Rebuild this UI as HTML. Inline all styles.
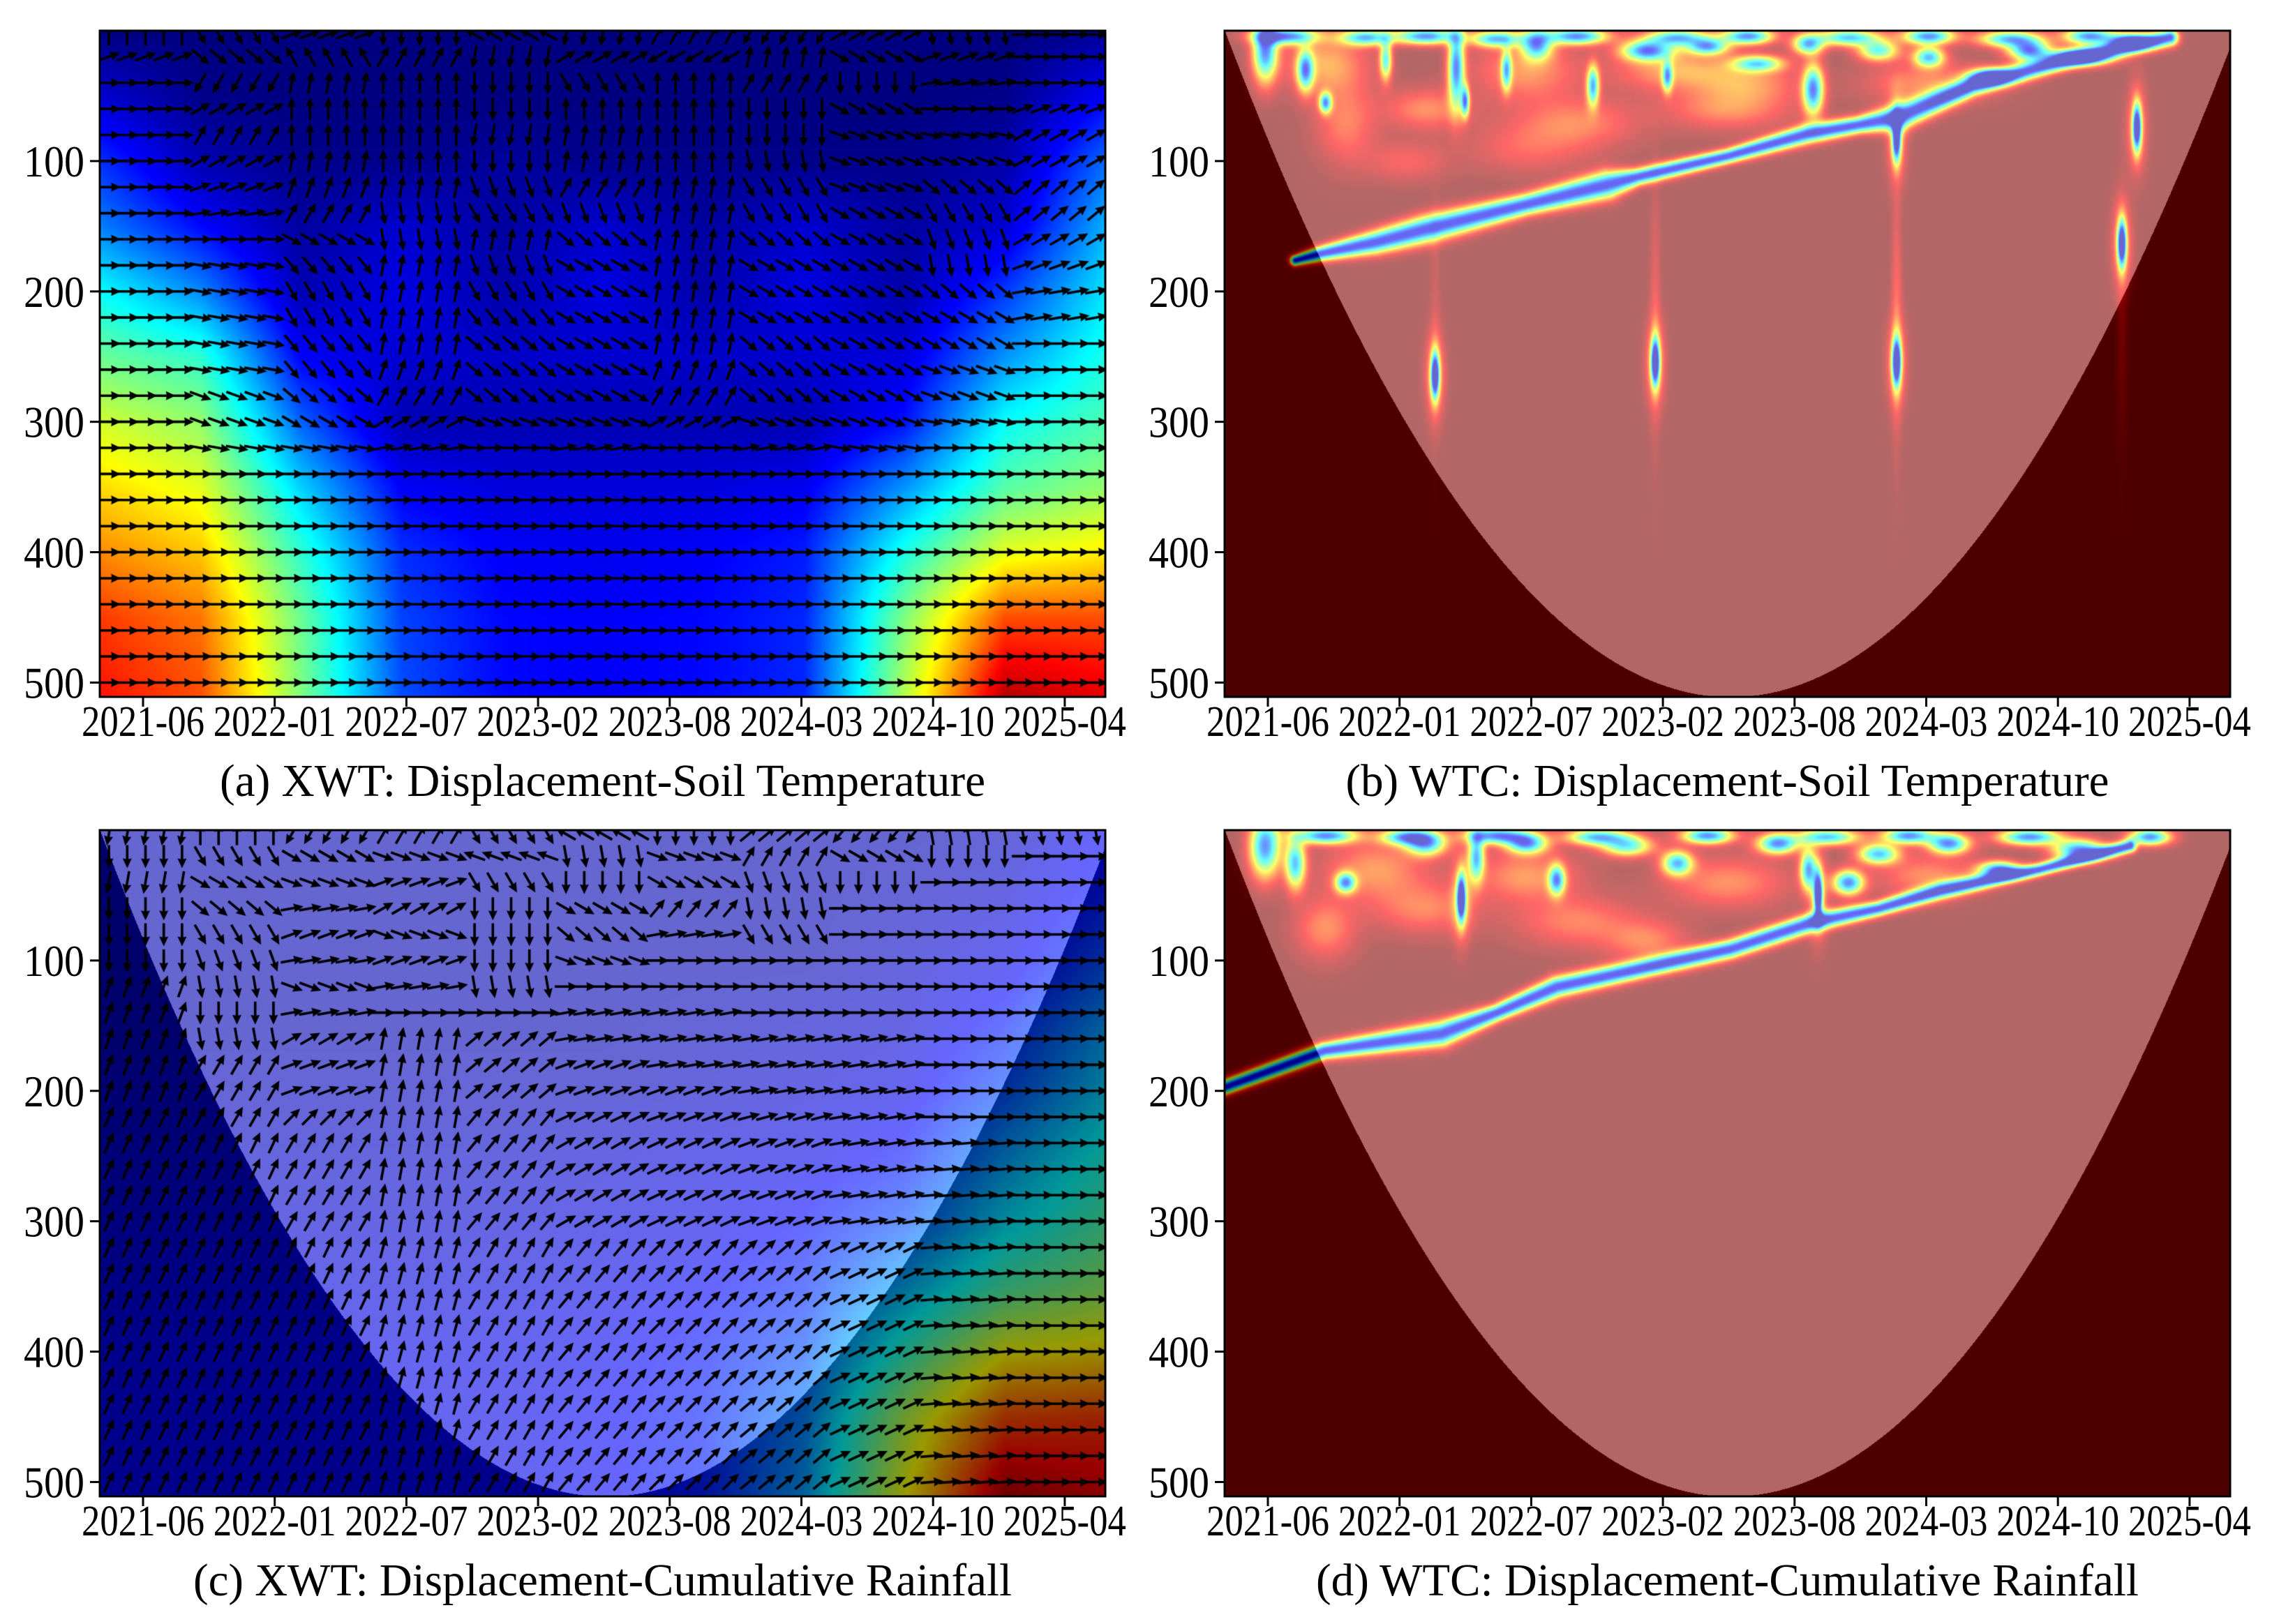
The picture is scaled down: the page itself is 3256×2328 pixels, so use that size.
<!DOCTYPE html>
<html><head><meta charset="utf-8">
<style>
html,body{margin:0;padding:0;background:#fff;}
#root{position:relative;width:3256px;height:2328px;overflow:hidden;background:#fff;}
canvas{position:absolute;}
svg{position:absolute;left:0;top:0;}
text{font-family:"Liberation Serif","Times New Roman",serif;fill:#000;}
</style></head>
<body>
<div id="root">
<canvas id="cA"></canvas>
<canvas id="cB"></canvas>
<canvas id="cC"></canvas>
<canvas id="cD"></canvas>
<svg id="ov" width="3256" height="2328"></svg>
</div>
<script>
// ---------- data ----------
const xTickLabels = ['2021-06','2022-01','2022-07','2023-02','2023-08','2024-03','2024-10','2025-04'];
const yTickValues = [100,200,300,400,500];
const panelTitles = ['(a) XWT: Displacement-Soil Temperature','(b) WTC: Displacement-Soil Temperature','(c) XWT: Displacement-Cumulative Rainfall','(d) WTC: Displacement-Cumulative Rainfall'];
const titleWidths = [1097,1094,1173,1179];
const periodMax = 511;
const gridV = [0,50,100,150,200,250,300,350,400,450,511];
const powerA = [
[.00,.00,.00,.00,.00,.00,.00,.00,.00,.00,.02],
[.08,.01,.00,.00,.00,.00,.00,.00,.00,.01,.12],
[.17,.05,.01,.01,.03,.01,.01,.01,.01,.04,.23],
[.25,.13,.03,.08,.03,.08,.03,.08,.03,.08,.30],
[.38,.26,.05,.10,.04,.10,.04,.10,.04,.18,.35],
[.48,.42,.12,.08,.07,.08,.07,.08,.09,.27,.40],
[.58,.52,.22,.05,.05,.05,.05,.05,.14,.38,.45],
[.66,.60,.33,.12,.09,.09,.09,.11,.27,.46,.52],
[.74,.68,.42,.17,.12,.11,.12,.15,.40,.60,.64],
[.82,.76,.48,.19,.13,.12,.13,.16,.50,.80,.80],
[.86,.80,.50,.20,.13,.12,.13,.16,.55,.95,.90]];
const powerC = [
[.05,.05,.05,.05,.05,.05,.05,.05,.05,.06,.12],
[.05,.05,.05,.05,.05,.05,.05,.05,.06,.08,.15],
[.05,.05,.05,.05,.05,.05,.05,.05,.07,.10,.20],
[.05,.05,.05,.05,.05,.05,.06,.07,.08,.15,.28],
[.06,.06,.06,.06,.06,.06,.07,.08,.10,.20,.33],
[.07,.07,.07,.07,.07,.08,.09,.10,.14,.28,.40],
[.08,.08,.08,.08,.08,.09,.10,.13,.20,.35,.45],
[.09,.09,.09,.09,.09,.10,.12,.16,.30,.45,.52],
[.10,.10,.10,.10,.10,.11,.14,.20,.42,.62,.65],
[.10,.10,.10,.10,.10,.12,.15,.25,.55,.80,.82],
[.10,.10,.10,.10,.10,.12,.15,.28,.62,.95,.90]];
// ridge of low coherence: [xFrac, period, widthPx]
const bandB = [[0.07,176,5],[0.094,171,7],[0.15,162,11],[0.2,152,13],[0.3,133,10],[0.38,118,13],[0.41,112,8],[0.5,96,7],[0.579,79,9],[0.63,72,8],[0.671,66,12],[0.743,42,9],[0.84,22,8],[0.94,5,8]];
const bandD = [[0,197,7],[0.099,169,8],[0.215,156,12],[0.27,140,8],[0.33,120,10],[0.42,105,9],[0.503,91,9],[0.582,71,9],[0.65,60,7],[0.712,46,8],[0.81,30,6],[0.9,12,6]];
// spikes: [xFrac, period]
const spikesB = [[0.209,264],[0.428,254],[0.668,254],[0.668,82],[0.907,74],[0.892,163]];
const spikesD = [[0.235,52],[0.59,50]];
// blobs: [xFrac, period, sxPx, syPx, depth]
const blobsB = [
[0.04,15,12,30,.8],[0.08,30,8,20,.7],[0.1,55,6,10,.7],[0.23,28,8,40,.8],[0.239,54,4,15,.7],[0.31,10,15,15,.7],
[0.366,42,6,20,.7],[0.42,15,25,10,.8],[0.48,12,20,8,.7],[0.53,25,25,8,.6],[0.58,10,15,10,.7],[0.585,45,10,25,.8],
[0.65,15,20,10,.6],[0.7,20,15,10,.7],[0.76,35,20,8,.8],[0.8,15,20,10,.8],[0.85,20,30,8,.8],[0.9,8,20,8,.8],
[0.06,4,30,8,.8],[0.14,5,25,8,.7],[0.2,4,30,8,.8],[0.27,6,25,8,.7],[0.35,4,30,8,.8],[0.45,5,30,8,.7],[0.52,4,25,8,.8],
[0.62,5,30,8,.7],[0.7,4,25,8,.8],[0.78,6,30,8,.7],[0.86,4,25,8,.8],[0.16,22,6,20,.6],[0.28,30,5,20,.6],[0.44,35,5,15,.6],
[0.12,70,30,40,.18],[0.2,60,40,20,.2],[0.35,70,60,25,.18],[0.5,60,60,20,.2],[0.52,40,50,20,.2],[0.1,25,40,30,.25],
[0.3,30,50,30,.22],[0.45,30,60,20,.25],[0.7,40,60,20,.2],[0.18,100,40,20,.12],[0.3,90,60,25,.12]];
const blobsD = [
[0.04,12,15,30,.8],[0.07,25,10,25,.7],[0.12,40,10,10,.7],[0.2,10,20,12,.7],[0.25,20,8,25,.7],[0.3,10,20,10,.75],
[0.33,38,8,15,.7],[0.4,12,25,10,.6],[0.45,25,15,12,.7],[0.55,10,20,10,.8],[0.58,30,8,20,.7],[0.62,40,15,12,.8],
[0.65,18,20,10,.7],[0.72,10,20,10,.8],[0.77,30,20,8,.8],[0.85,15,25,10,.8],[0.92,5,20,8,.8],
[0.1,4,30,8,.8],[0.18,5,25,8,.7],[0.27,4,30,8,.8],[0.37,5,30,8,.7],[0.48,4,25,8,.8],[0.6,5,30,8,.7],[0.68,4,25,8,.8],[0.8,5,30,8,.8],
[0.1,75,30,30,.2],[0.2,60,50,25,.18],[0.35,70,60,25,.18],[0.42,85,40,20,.18],[0.5,40,60,25,.2],[0.15,30,50,30,.22],[0.3,35,50,25,.22],[0.7,35,50,20,.2]];
const vLinesB = [[0.428,0.1],[0.668,0.14],[0.209,0.05],[0.892,0.06]];
// quiver phase angles (deg), 26 rows x 11 column blocks
const quiverRowsV = [3,20,40,60,80,100,120,140,160,180,200,220,240,260,280,300,320,340,360,380,400,420,440,460,480,500];
const phaseA = [
[90,-60,20,-90,150,-100,60,-120,30,-80,0],
[20,-40,120,60,-100,30,-150,80,-30,20,0],
[0,-120,80,90,-90,-60,90,60,-90,10,0],
[0,30,90,90,-90,90,90,-90,-30,0,20],
[0,60,90,90,-100,80,90,-90,-20,-10,30],
[0,30,80,90,-90,80,90,-80,-20,-20,30],
[0,20,70,80,-70,60,80,-60,-20,-40,40],
[0,10,60,-80,-60,-70,80,-60,-30,-60,40],
[0,0,-30,-80,80,-40,80,-40,-30,-70,30],
[0,-10,-50,80,-70,-30,80,-30,-30,-80,20],
[0,-10,-60,80,-60,-30,80,-30,-30,-40,10],
[0,-10,-60,80,-50,-30,80,-30,-30,-30,10],
[0,-10,-50,80,-40,-30,80,-40,-30,-30,0],
[0,-10,-50,70,-40,-30,70,-40,-30,-20,0],
[0,-20,-40,60,-40,-30,60,-40,-30,-20,0],
[0,-20,-30,30,-20,-20,30,-20,-20,-10,0],
[0,-10,-10,10,0,10,0,10,-10,0,0],
[0,0,0,0,0,0,0,0,0,0,0],[0,0,0,0,0,0,0,0,0,0,0],[0,0,0,0,0,0,0,0,0,0,0],
[0,0,0,0,0,0,0,0,0,0,0],[0,0,0,0,0,0,0,0,0,0,0],[0,0,0,0,0,0,0,0,0,0,0],
[0,0,0,0,0,0,0,0,0,0,0],[0,0,0,0,0,0,0,0,0,0,0],[0,0,0,0,0,0,0,0,0,0,0]];
const phaseC = [
[-100,90,-120,60,-60,150,-90,40,-130,100,-80],
[-90,-60,-30,-20,160,-80,-20,60,-30,-90,0],
[-100,-30,-20,20,-60,-90,-30,-70,-90,0,0],
[-90,-40,10,30,-90,-30,50,-80,0,0,0],
[-90,-60,20,-20,-90,-40,10,-60,0,0,0],
[-90,-70,10,20,-90,-20,0,0,0,0,0],
[70,-80,-20,10,-80,0,0,0,0,0,0],
[70,-90,10,0,0,10,10,0,0,0,0],
[70,-80,30,80,40,10,10,10,10,0,0],
[70,60,20,80,40,20,10,10,10,0,0],
[70,60,20,80,40,20,20,10,10,0,0],
[65,60,45,80,50,25,20,15,10,0,0],
[65,65,60,80,50,30,25,20,10,5,0],
[65,65,60,80,50,30,25,20,10,5,0],
[65,65,60,80,50,30,25,20,10,5,0],
[65,65,60,80,50,30,25,20,10,5,0],
[65,65,65,75,60,50,45,40,25,5,0],
[65,65,65,75,60,50,45,40,25,5,0],
[65,65,65,75,60,50,45,40,25,5,0],
[65,65,65,75,60,50,45,40,25,5,0],
[65,65,65,75,60,50,45,40,25,5,0],
[65,65,65,75,60,50,45,40,25,5,0],
[65,65,65,75,60,50,45,40,25,5,0],
[65,65,65,75,60,50,45,40,25,5,0],
[65,65,65,75,60,50,45,40,25,5,0],
[65,65,65,75,60,50,45,40,25,5,0]];

// ---------- layout ----------
const PW=1441, PH=955;
const panels=[{L:143,T:44,id:'cA'},{L:1755,T:44,id:'cB'},{L:143,T:1190,id:'cC'},{L:1755,T:1190,id:'cD'}];
function yScale(v){return v*PH/periodMax;}
function xScaleFrac(f){return f*PW;}
function xTick(i){return 62+i*188.7;}
function coiV(f){const u=(f-0.503)/0.503;return periodMax*(1-u*u);}

function jet(v){v=Math.max(0,Math.min(1,v));const c=t=>Math.max(0,Math.min(1,t));
 return [c(1.5-Math.abs(4*v-3))*255,c(1.5-Math.abs(4*v-2))*255,c(1.5-Math.abs(4*v-1))*255];}
function gridVal(g,f,v){
 let j=0;while(j<gridV.length-2&&v>gridV[j+1])j++;
 const ty=Math.max(0,Math.min(1,(v-gridV[j])/(gridV[j+1]-gridV[j])));
 const xf=Math.max(0,Math.min(0.99999,f))*10;const i=Math.floor(xf),tx=xf-i;
 const a=g[j][i]*(1-tx)+g[j][i+1]*tx, b=g[j+1][i]*(1-tx)+g[j+1][i+1]*tx;
 return a*(1-ty)+b*ty;}

function paint(cv,valFn,coi){
 cv.width=PW;cv.height=PH;const ctx=cv.getContext('2d');const im=ctx.createImageData(PW,PH);const d=im.data;
 for(let y=0;y<PH;y++){const v=y*periodMax/PH;
  for(let x=0;x<PW;x++){const f=x/PW;const c=jet(valFn(x,y,f,v));const k=(y*PW+x)*4;
   if(coi){ if(v<coiV(f)){d[k]=c[0]*0.6+102;d[k+1]=c[1]*0.6+102;d[k+2]=c[2]*0.6+102;}
            else{d[k]=c[0]*0.6;d[k+1]=c[1]*0.6;d[k+2]=c[2]*0.6;} }
   else{d[k]=c[0];d[k+1]=c[1];d[k+2]=c[2];}
   d[k+3]=255;}}
 ctx.putImageData(im,0,0);return ctx;}

function buildField(band,spikes,blobs,vlines){
 const blob=new Float32Array(PW*PH), bf=new Float32Array(PW*PH);
 function addBlob(f,v,sx,sy,dep){const cx=xScaleFrac(f),cy=yScale(v);
  const x0=Math.max(0,Math.floor(cx-3*sx)),x1=Math.min(PW-1,Math.ceil(cx+3*sx)),y0=Math.max(0,Math.floor(cy-3*sy)),y1=Math.min(PH-1,Math.ceil(cy+3*sy));
  for(let y=y0;y<=y1;y++)for(let x=x0;x<=x1;x++){const dx=(x-cx)/sx,dy=(y-cy)/sy;blob[y*PW+x]+=dep*Math.exp(-0.5*(dx*dx+dy*dy));}}
 blobs.forEach(b=>addBlob(b[0],b[1],b[2],b[3],b[4]));
 spikes.forEach(s=>{addBlob(s[0],s[1],4,22,0.92);addBlob(s[0],s[1],9,40,0.3);});
 vlines.forEach(l=>addBlob(l[0],220,5,120,l[1]));
 for(let s=0;s<band.length-1;s++){const p=band[s],q=band[s+1];
  const ax=xScaleFrac(p[0]),ay=yScale(p[1]),bx=xScaleFrac(q[0]),by=yScale(q[1]);const m=Math.max(p[2],q[2])*3.5;
  const x0=Math.max(0,Math.floor(Math.min(ax,bx)-m)),x1=Math.min(PW-1,Math.ceil(Math.max(ax,bx)+m));
  const y0=Math.max(0,Math.floor(Math.min(ay,by)-m)),y1=Math.min(PH-1,Math.ceil(Math.max(ay,by)+m));
  const vx=bx-ax,vy=by-ay,L2=vx*vx+vy*vy;
  for(let y=y0;y<=y1;y++)for(let x=x0;x<=x1;x++){let t=((x-ax)*vx+(y-ay)*vy)/L2;t=Math.max(0,Math.min(1,t));
   const dx=x-(ax+t*vx),dy=y-(ay+t*vy);const w=p[2]*(1-t)+q[2]*t;const val=0.9*Math.exp(-0.5*(dx*dx+dy*dy)/(w*w));
   const k=y*PW+x;if(val>bf[k])bf[k]=val;}}
 return (x,y)=>{const k=y*PW+x;return 1-Math.min(0.95,blob[k]+bf[k]);};}

function drawQuiver(ctx,phase){
 const nCols=55;ctx.fillStyle='#000';
 quiverRowsV.forEach((v,r)=>{const cy=yScale(v);
  for(let i=0;i<nCols;i++){const cx=(i+0.5)*PW/nCols;const blk=Math.min(10,Math.floor(i/5));
   const a=-phase[r][blk]*Math.PI/180;
   ctx.save();ctx.translate(cx,cy);ctx.rotate(a);
   ctx.beginPath();ctx.moveTo(-16,-1.8);ctx.lineTo(4,-1.8);ctx.lineTo(3,-6.5);ctx.lineTo(17,0);ctx.lineTo(3,6.5);ctx.lineTo(4,1.8);ctx.lineTo(-16,1.8);ctx.closePath();ctx.fill();
   ctx.restore();}});}

// ---------- render ----------
panels.forEach(p=>{const c=document.getElementById(p.id);c.style.left=p.L+'px';c.style.top=p.T+'px';});
const ctxA=paint(document.getElementById('cA'),(x,y,f,v)=>gridVal(powerA,f,v),false);
drawQuiver(ctxA,phaseA);
const fB=buildField(bandB,spikesB,blobsB,vLinesB);
paint(document.getElementById('cB'),(x,y)=>fB(x,y),true);
const ctxC=paint(document.getElementById('cC'),(x,y,f,v)=>gridVal(powerC,f,v),true);
drawQuiver(ctxC,phaseC);
const fD=buildField(bandD,spikesD,blobsD,[]);
paint(document.getElementById('cD'),(x,y)=>fD(x,y),true);

// ---------- axes ----------
const NS='http://www.w3.org/2000/svg';const ov=document.getElementById('ov');
function el(tag,attrs,parent){const e=document.createElementNS(NS,tag);for(const k in attrs)e.setAttribute(k,attrs[k]);parent.appendChild(e);return e;}
panels.forEach((p,pi)=>{
 const g=el('g',{},ov);
 
 
 const fr=el('rect',{x:p.L,y:p.T,width:PW,height:PH,fill:'none',stroke:'#000','stroke-width':3},g);
 
 
 yTickValues.forEach(v=>{const y=p.T+yScale(v);
  const t=el('line',{x1:p.L-14,x2:p.L,y1:y,y2:y,stroke:'#000','stroke-width':3},g);
  
  
  const tx=el('text',{x:p.L-22,y:y+22,'text-anchor':'end','font-size':64,textLength:87,lengthAdjust:'spacingAndGlyphs'},g);tx.textContent=v;
  
  });
 xTickLabels.forEach((lab,i)=>{const x=p.L+xTick(i),b=p.T+PH;
  const t=el('line',{x1:x,x2:x,y1:b,y2:b+14,stroke:'#000','stroke-width':3},g);
  
  
  const tx=el('text',{x:x,y:b+56,'text-anchor':'middle','font-size':62,textLength:176,lengthAdjust:'spacingAndGlyphs'},g);tx.textContent=lab;
  
  });
 const ti=el('text',{x:p.L+PW/2,y:p.T+PH+142,'text-anchor':'middle','font-size':66,textLength:titleWidths[pi],lengthAdjust:'spacingAndGlyphs'},g);ti.textContent=panelTitles[pi];
 
 
});
</script>
</body></html>
